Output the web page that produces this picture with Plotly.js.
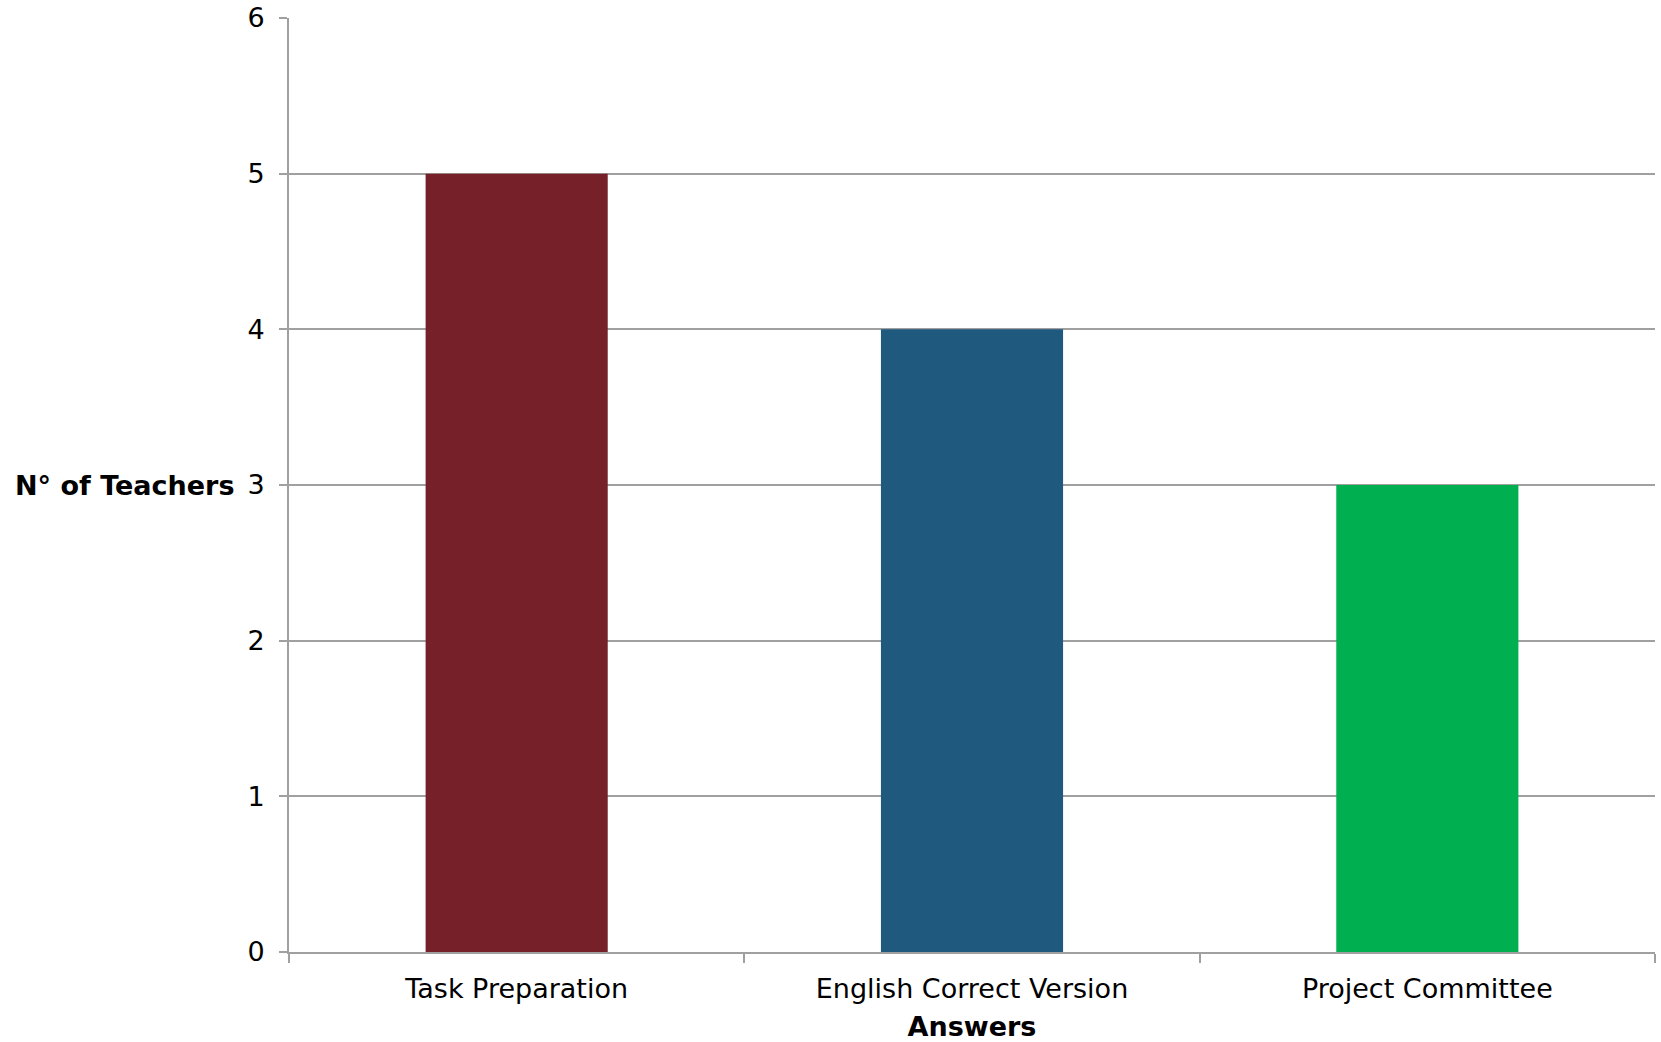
<!DOCTYPE html>
<html>
<head>
<meta charset="utf-8">
<script src="https://cdn.plot.ly/plotly-3.0.1.min.js"></script>
<style>html,body{margin:0;padding:0;background:#fff;}#chart{width:1661px;height:1042px;}</style>
</head>
<body>
<div id="chart"></div>
<script>
const categories = ["Task Preparation", "English Correct Version", "Project Committee"];
const teachers = [5, 4, 3];
const barColors = ["#76202A", "#1F5A7E", "#00AF50"];
const yTickValues = [0, 1, 2, 3, 4, 5, 6];

const fontFamily = "Verdana, 'DejaVu Sans', sans-serif";
const gridGray = "#a0a0a0";

const trace = {
  type: "bar",
  x: categories,
  y: teachers,
  marker: { color: barColors, line: { width: 0 } },
  hoverinfo: "x+y"
};

const layout = {
  width: 1661,
  height: 1042,
  margin: { l: 289, r: 6, t: 18, b: 90 },
  paper_bgcolor: "#ffffff",
  plot_bgcolor: "#ffffff",
  bargap: 0.6,
  showlegend: false,
  font: { family: fontFamily, size: 27, color: "#000000" },
  xaxis: {
    type: "category",
    showgrid: false,
    showline: true,
    linecolor: gridGray,
    linewidth: 2,
    ticks: "outside",
    tickson: "boundaries",
    ticklen: 9,
    tickwidth: 2,
    tickcolor: gridGray,
    tickfont: { family: fontFamily, size: 27, color: "#000" },
    ticklabelstandoff: 12,
    title: { text: "<b>Answers</b>", font: { family: fontFamily, size: 27, color: "#000" }, standoff: 16 },
    zeroline: false
  },
  yaxis: {
    range: [0, 6],
    tickvals: yTickValues,
    ticktext: yTickValues.map(String),
    showgrid: true,
    gridcolor: gridGray,
    gridwidth: 2,
    showline: true,
    linecolor: gridGray,
    linewidth: 2,
    ticks: "outside",
    ticklen: 8,
    tickwidth: 2,
    tickcolor: gridGray,
    tickfont: { family: fontFamily, size: 27, color: "#000" },
    ticklabelstandoff: 9,
    zeroline: false
  },
  annotations: [{
    text: "<b>N° of Teachers</b>",
    xref: "paper", yref: "y",
    x: 0, y: 3,
    xanchor: "right", yanchor: "middle",
    xshift: -53,
    showarrow: false,
    font: { family: fontFamily, size: 27, color: "#000" }
  }]
};

Plotly.newPlot("chart", [trace], layout, { displayModeBar: false, staticPlot: false });
</script>
</body>
</html>
